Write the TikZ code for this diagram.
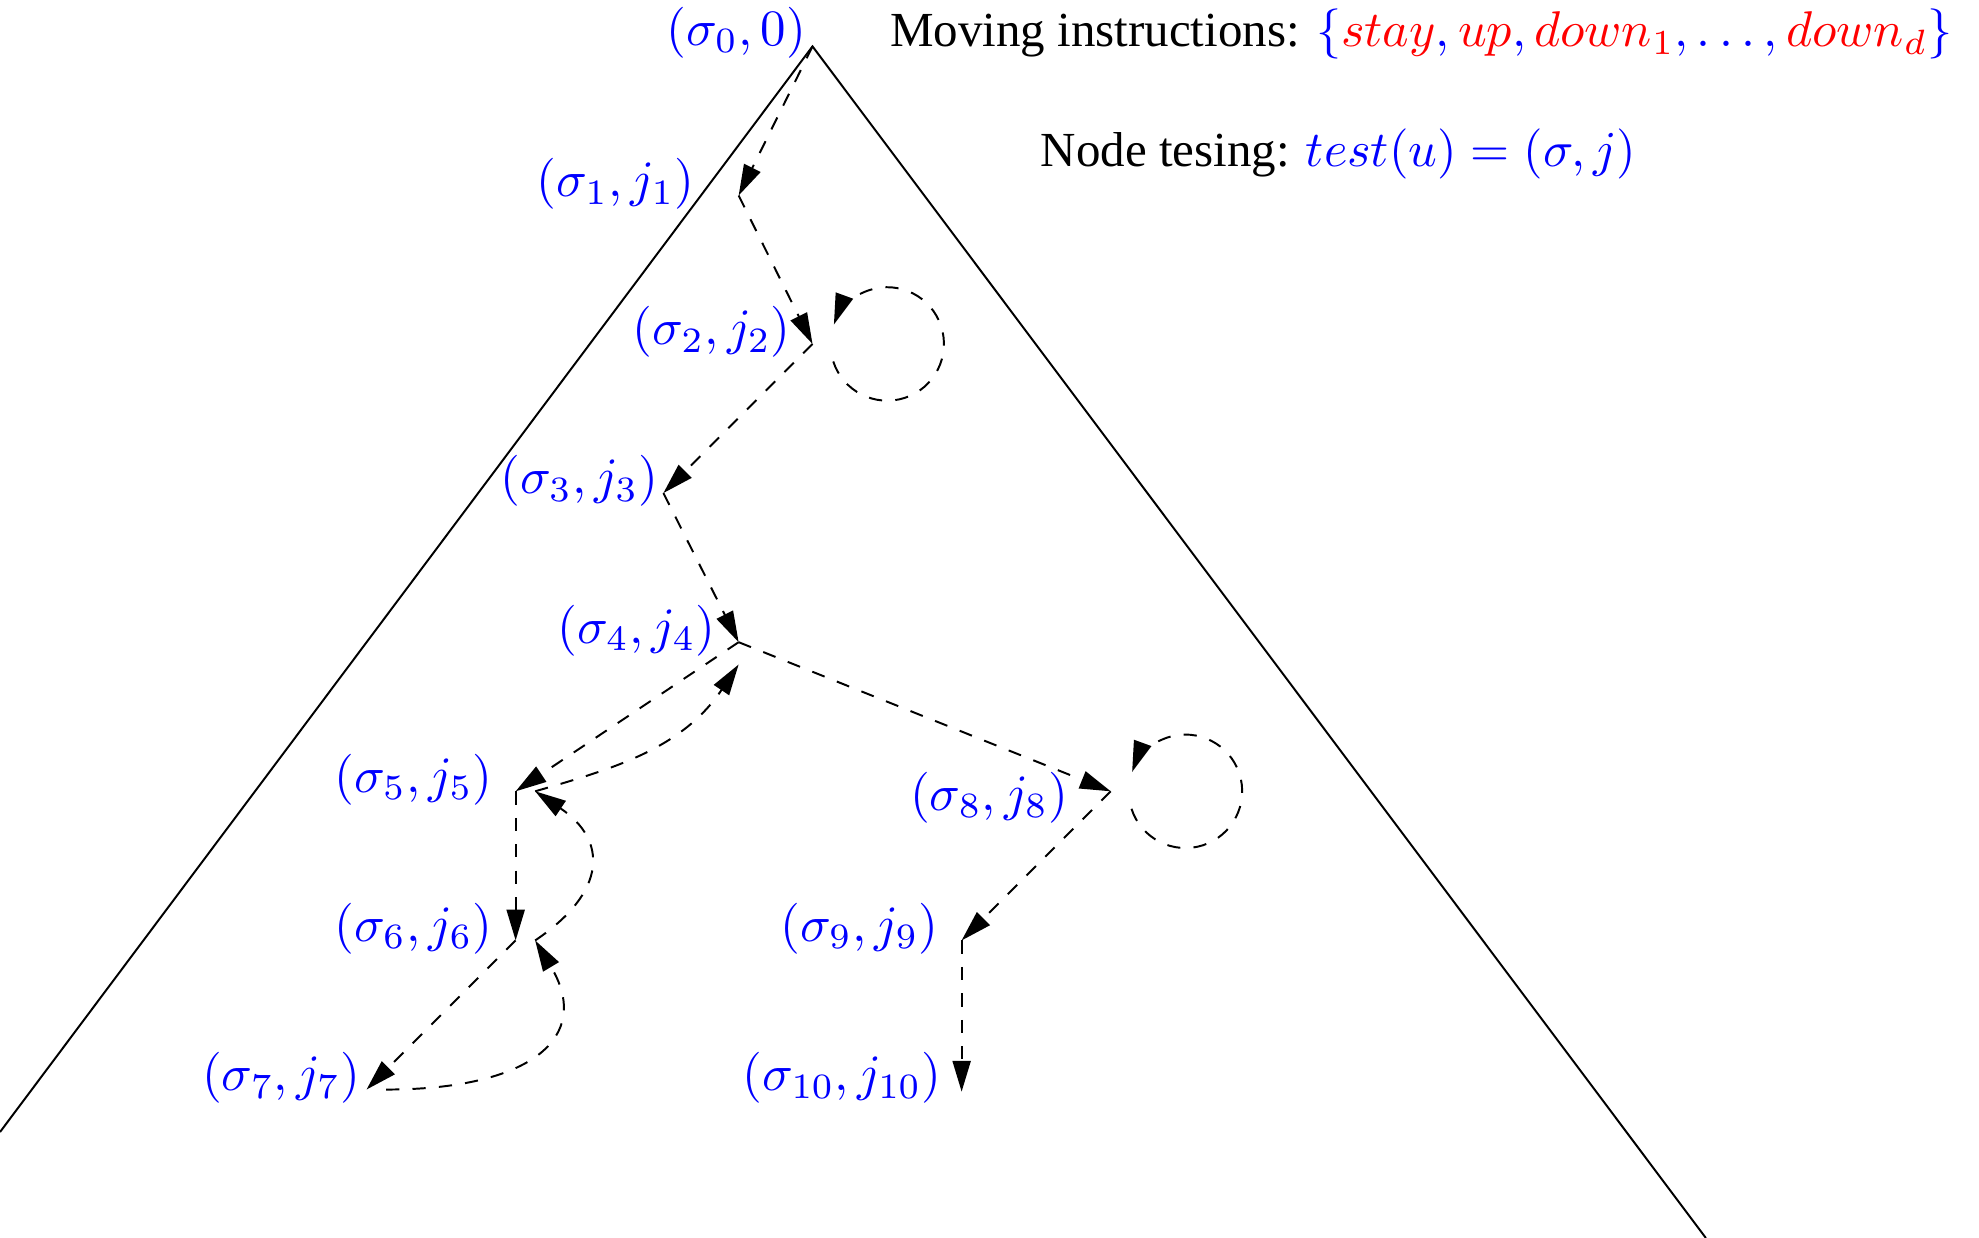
\RequirePackage{fix-cm}
\documentclass[tikz,border=0pt]{standalone}
\usepackage[no-math]{fontspec}
\setmainfont{Liberation Serif}
\usetikzlibrary{arrows.meta,positioning}

\newcommand{\bigmath}{\fontsize{10.25}{12}\selectfont}

\begin{document}
\begin{tikzpicture}
[
    line width=0.4pt,
    walk/.style={dash pattern=on 2.7pt off 2.7pt, -{Triangle[length=6.3pt,width=3.7pt]}},
    tuple/.style={blue, inner sep=0pt, yshift=0.85mm, font=\fontsize{10.4}{12}\selectfont},
    note/.style={anchor=base west, inner sep=0pt}
]
    \useasboundingbox (0,0) rectangle (14.20,8.883);

    % the tree
    \coordinate (p0) at (5.83,8.55);
    \coordinate (bl) at (0,0.76);
    \coordinate (br) at (12.24,0);
    \draw (bl) -- (p0) -- (br);

    % visited nodes
    \coordinate (p1) at (5.30,7.48);
    \coordinate (p2) at (5.83,6.415);
    \coordinate (p3) at (4.76,5.345);
    \coordinate (p4) at (5.30,4.275);
    \coordinate (p5) at (3.70,3.205);
    \coordinate (p6) at (3.70,2.135);
    \coordinate (p7) at (2.63,1.065);
    \coordinate (p8) at (7.97,3.205);
    \coordinate (p9) at (6.90,2.135);
    \coordinate (p10) at (6.90,1.05);

    \node[tuple, left=0.4mm of p0, yshift=0.15mm] (t0) {$(\sigma_0,0)$};
    \node[tuple, left=3.1mm of p1] (t1) {$(\sigma_1,j_1)$};
    \node[tuple, left=1.5mm of p2] (t2) {$(\sigma_2,j_2)$};
    \node[tuple, left=0.3mm of p3] (t3) {$(\sigma_3,j_3)$};
    \node[tuple, left=1.6mm of p4] (t4) {$(\sigma_4,j_4)$};
    \node[tuple, left=1.6mm of p5] (t5) {$(\sigma_5,j_5)$};
    \node[tuple, left=1.6mm of p6] (t6) {$(\sigma_6,j_6)$};
    \node[tuple, left=0.4mm of p7] (t7) {$(\sigma_7,j_7)$};
    \node[tuple, left=3mm of p8, yshift=-1.3mm] (t8) {$(\sigma_8,j_8)$};
    \node[tuple, left=1.6mm of p9] (t9) {$(\sigma_9,j_9)$};
    \node[tuple, left=1.4mm of p10, yshift=0.15mm] (t10) {$(\sigma_{10},j_{10})$};

    % the walk
    \draw[walk] (p0) -- (p1);
    \draw[walk] (p1) -- (p2);
    \draw[walk] (p2) -- (p3);
    \draw[walk] (p3) -- (p4);
    \draw[walk] (p4) -- (p5);
    \draw[walk] (p5) -- (p6);
    \draw[walk] (p6) -- (p7);
    \draw[walk] ([xshift=1.4mm]p7) .. controls +(1.03,0) and +(0.42,-0.70) .. ([xshift=1.4mm]p6);
    \draw[walk] ([xshift=1.4mm]p6) .. controls +(0.52,0.35) and +(0.52,-0.35) .. ([xshift=1.4mm]p5);
    \draw[walk] ([xshift=1.4mm]p5) .. controls +(0.55,0.16) and +(-0.41,-0.61) .. ([yshift=-1.6mm]p4);
    \draw[walk] (p4) -- (p8);
    \draw[walk] (p8) -- (p9);
    \draw[walk] (p9) -- (p10);

    % stay
    \coordinate[right=5.36mm of p2] (c2);
    \coordinate[right=5.36mm of p8] (c8);
    \draw[walk] ([shift={(198:4.07mm)}]c2) arc[start angle=198, end angle=520, radius=4.07mm];
    \draw[walk] ([shift={(198:4.07mm)}]c8) arc[start angle=198, end angle=520, radius=4.07mm];

    \node[note] (moving) at (6.38,8.548)
        {Moving instructions: \textcolor{blue}{\bigmath$\{\textcolor{red}{stay}, \textcolor{red}{up}, \textcolor{red}{down_1}, \ldots, \textcolor{red}{down_d}\}$}};
    \node[note] (testing) at (7.46,7.688)
        {Node tesing: \textcolor{blue}{\bigmath$test(u)=(\sigma,j)$}};
\end{tikzpicture}
\end{document}
